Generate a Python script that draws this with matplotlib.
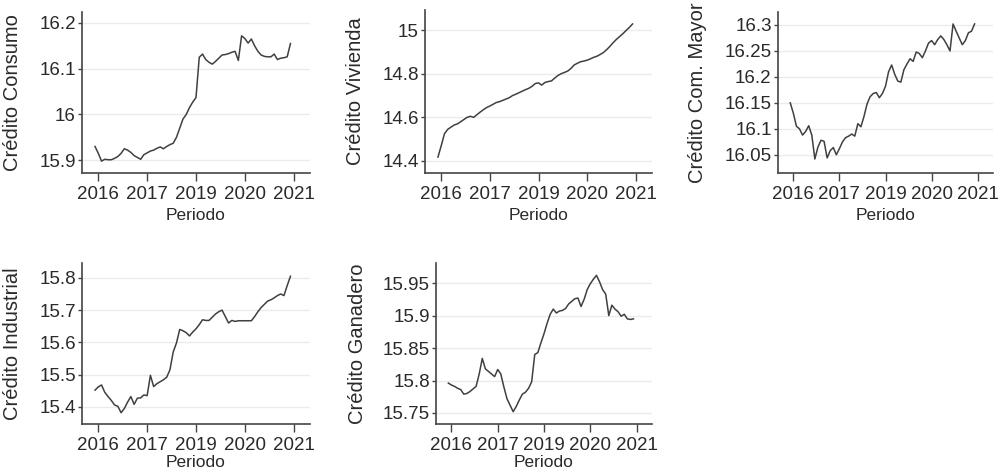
import matplotlib.pyplot as plt
import numpy as np

plt.rcParams['font.family'] = ['Liberation Sans', 'DejaVu Sans']

# monthly position (tick 2016 = 0, tick 2021 = 60)
periodo = np.arange(-1, 60)
tick_pos = [0, 15, 30, 45, 60]
tick_labels = ['2016', '2017', '2019', '2020', '2021']

consumo = [15.930, 15.915, 15.898, 15.902, 15.901, 15.901, 15.904, 15.908, 15.915, 15.925,
           15.922, 15.917, 15.910, 15.906, 15.902, 15.912, 15.916, 15.920, 15.922, 15.926,
           15.929, 15.925, 15.930, 15.934, 15.937, 15.950, 15.970, 15.990, 16.000, 16.015,
           16.027, 16.037, 16.125, 16.132, 16.120, 16.114, 16.110, 16.116, 16.123, 16.130,
           16.131, 16.133, 16.136, 16.138, 16.118, 16.172, 16.166, 16.156, 16.165, 16.150,
           16.138, 16.130, 16.127, 16.126, 16.126, 16.132, 16.120, 16.123, 16.124, 16.126,
           16.155]

vivienda = [14.418, 14.470, 14.525, 14.545, 14.555, 14.565, 14.570, 14.580, 14.590, 14.600,
            14.605, 14.600, 14.612, 14.624, 14.635, 14.645, 14.652, 14.660, 14.668, 14.672,
            14.678, 14.684, 14.690, 14.700, 14.706, 14.713, 14.720, 14.727, 14.733, 14.742,
            14.755, 14.758, 14.748, 14.760, 14.764, 14.767, 14.780, 14.792, 14.800, 14.806,
            14.812, 14.824, 14.840, 14.848, 14.855, 14.858, 14.862, 14.868, 14.875, 14.880,
            14.888, 14.897, 14.910, 14.925, 14.942, 14.957, 14.970, 14.983, 14.998, 15.012,
            15.028]

com_mayor = [16.150, 16.130, 16.105, 16.100, 16.088, 16.095, 16.106, 16.088, 16.042, 16.065,
             16.078, 16.076, 16.044, 16.058, 16.064, 16.050, 16.062, 16.075, 16.083, 16.086,
             16.090, 16.086, 16.110, 16.104, 16.124, 16.148, 16.162, 16.168, 16.170, 16.160,
             16.168, 16.182, 16.210, 16.223, 16.205, 16.192, 16.190, 16.214, 16.225, 16.235,
             16.230, 16.248, 16.245, 16.237, 16.250, 16.265, 16.270, 16.262, 16.272, 16.279,
             16.272, 16.262, 16.250, 16.302, 16.288, 16.275, 16.262, 16.270, 16.285, 16.288,
             16.302]

industrial = [15.452, 15.462, 15.468, 15.445, 15.432, 15.420, 15.406, 15.402, 15.382, 15.395,
              15.415, 15.432, 15.408, 15.427, 15.428, 15.437, 15.435, 15.498, 15.463, 15.472,
              15.478, 15.484, 15.492, 15.515, 15.570, 15.598, 15.640, 15.636, 15.630, 15.620,
              15.632, 15.642, 15.655, 15.670, 15.668, 15.668, 15.678, 15.688, 15.695, 15.700,
              15.680, 15.660, 15.668, 15.665, 15.667, 15.667, 15.667, 15.667, 15.667, 15.680,
              15.695, 15.708, 15.718, 15.728, 15.732, 15.738, 15.745, 15.750, 15.745, 15.776,
              15.805]

ganadero = [15.796, 15.793, 15.791, 15.788, 15.786, 15.779, 15.780, 15.783, 15.787, 15.791,
            15.810, 15.834, 15.818, 15.814, 15.810, 15.806, 15.817, 15.810, 15.790, 15.772,
            15.762, 15.752, 15.760, 15.770, 15.779, 15.782, 15.788, 15.798, 15.840, 15.843,
            15.858, 15.872, 15.888, 15.902, 15.910, 15.904, 15.907, 15.908, 15.911, 15.918,
            15.922, 15.926, 15.927, 15.914, 15.925, 15.940, 15.949, 15.956, 15.962, 15.952,
            15.940, 15.933, 15.900, 15.916, 15.910, 15.906, 15.899, 15.902, 15.895, 15.894,
            15.895]

W, H = 1005, 469
fig = plt.figure(figsize=(W / 100, H / 100), dpi=100)

# (values, label, yticks, ytick labels, ylim, box px (left, top, right, bottom), ylabel x, xlabel pad)
panels = [
    (consumo, 'Crédito Consumo', [15.9, 16.0, 16.1, 16.2], ['15.9', '16', '16.1', '16.2'],
     (15.872, 16.224), (82, 12, 310, 173), -0.263, 4),
    (vivienda, 'Crédito Vivienda', [14.4, 14.6, 14.8, 15.0], ['14.4', '14.6', '14.8', '15'],
     (14.345, 15.092), (425, 10, 652, 173), -0.264, 4),
    (com_mayor, 'Crédito Com. Mayor', [16.05, 16.1, 16.15, 16.2, 16.25, 16.3],
     ['16.05', '16.1', '16.15', '16.2', '16.25', '16.3'],
     (16.015, 16.325), (778, 12, 993, 173), -0.33, 4),
    (industrial, 'Crédito Industrial', [15.4, 15.5, 15.6, 15.7, 15.8],
     ['15.4', '15.5', '15.6', '15.7', '15.8'],
     (15.347, 15.846), (82, 263, 310, 424), -0.263, 1),
    (ganadero, 'Crédito Ganadero', [15.75, 15.8, 15.85, 15.9, 15.95],
     ['15.75', '15.8', '15.85', '15.9', '15.95'],
     (15.733, 15.981), (436, 263, 652, 424), -0.319, 1),
]

for vals, label, yt, ytl, ylim, box, lx, xpad in panels:
    l, t, r, b = box
    ax = fig.add_axes([l / W, 1 - b / H, (r - l) / W, (b - t) / H])
    ax.plot(periodo, vals, color='#404040', lw=1.1)
    ax.set_xlim(-5, 65)
    ax.set_ylim(*ylim)
    ax.set_xticks(tick_pos)
    ax.set_xticklabels(tick_labels)
    ax.set_yticks(yt)
    ax.set_yticklabels(ytl)
    ax.grid(axis='y', color='#ebebeb', lw=1.0)
    ax.set_axisbelow(True)
    for s in ['top', 'right']:
        ax.spines[s].set_visible(False)
    for s in ['left', 'bottom']:
        ax.spines[s].set_color('#444444')
        ax.spines[s].set_linewidth(1.2)
    ax.tick_params(axis='x', length=6, width=1, color='#444444', pad=3,
                   labelsize=13.5, labelcolor='#2a2a2a')
    ax.tick_params(axis='y', length=3, width=1, color='#444444', pad=1.5,
                   labelsize=13.5, labelcolor='#2a2a2a')
    ax.set_xlabel('Periodo', fontsize=12.5, color='#2a2a2a', labelpad=xpad)
    ax.set_ylabel(label, fontsize=14.5, color='#2a2a2a')
    ax.yaxis.set_label_coords(lx, 0.5)

fig.savefig('out.png', dpi=100)
